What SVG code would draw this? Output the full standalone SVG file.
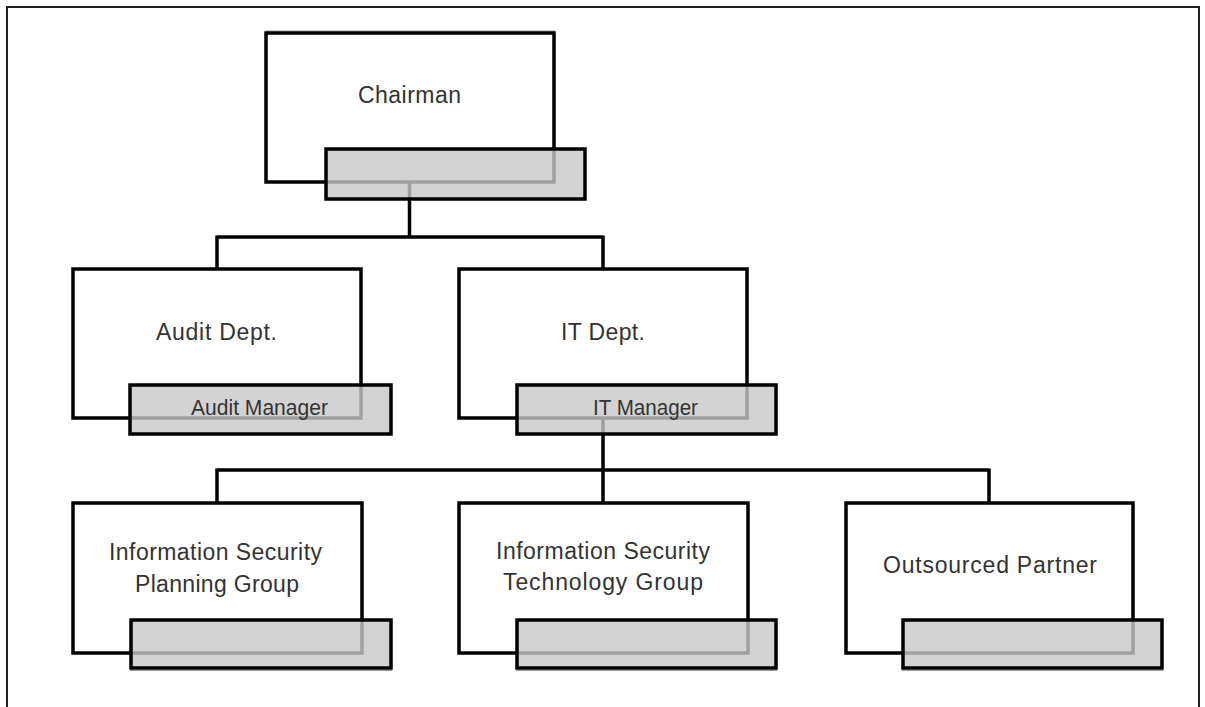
<svg xmlns="http://www.w3.org/2000/svg" width="1205" height="707" viewBox="0 0 1205 707">
<style>
.bg{fill:#fff}
.frame{fill:none;stroke:#222;stroke-width:2}
.box{fill:#fff;stroke:#000;stroke-width:3.5}
.tab{fill:#c8c8c8;fill-opacity:0.8;stroke:#000;stroke-width:3.5}
.edge{fill:none;stroke:#000;stroke-width:3.5}
.thin{fill:none;stroke:#999;stroke-width:1}
text{font-family:"Liberation Sans",Arial,sans-serif;font-size:23px;fill:#333;text-anchor:middle}
.sm{font-size:22px}
</style>
<rect class="bg" x="0" y="0" width="1205" height="707"/>
<rect class="frame" x="7" y="7" width="1192" height="720"/>
<g id="connectors">
<path class="edge" d="M409.5 182 V237 M217 237 H603 M217 235.5 V269 M603 235.5 V269"/>
<path class="edge" d="M603 418 V470 M217 470 H989 M217 468.5 V503 M603 468.5 V503 M989 468.5 V503"/>
</g>
<g id="chairman">
<line class="thin" x1="266" y1="31" x2="555" y2="31"/>
<rect class="box" x="266" y="33" width="288" height="149"/>
<text x="409.5" y="103" textLength="103" lengthAdjust="spacing">Chairman</text>
<rect class="tab" x="326" y="149" width="259" height="50"/>
</g>
<g id="audit">
<rect class="box" x="73" y="269" width="288" height="149"/>
<text x="216.5" y="340" textLength="121" lengthAdjust="spacing">Audit Dept.</text>
<rect class="tab" x="130" y="385" width="261" height="49"/>
<text class="sm" x="259.5" y="415" textLength="137" lengthAdjust="spacingAndGlyphs">Audit Manager</text>
</g>
<g id="it">
<rect class="box" x="459" y="269" width="288" height="149"/>
<text x="603" y="340" textLength="84" lengthAdjust="spacing">IT Dept.</text>
<rect class="tab" x="517" y="385" width="259" height="49"/>
<text class="sm" x="645.5" y="415" textLength="105" lengthAdjust="spacingAndGlyphs">IT Manager</text>
</g>
<g id="planning">
<rect class="box" x="73" y="503" width="289" height="150"/>
<text x="215.5" y="560" textLength="213" lengthAdjust="spacing">Information Security</text>
<text x="217" y="592" textLength="164" lengthAdjust="spacing">Planning Group</text>
<rect class="tab" x="131" y="620" width="260" height="48"/>
<line class="thin" x1="130" y1="670.5" x2="392" y2="670.5"/>
</g>
<g id="technology">
<rect class="box" x="459" y="503" width="289" height="150"/>
<text x="603" y="559" textLength="214" lengthAdjust="spacing">Information Security</text>
<text x="603" y="590" textLength="200" lengthAdjust="spacing">Technology Group</text>
<rect class="tab" x="517" y="620" width="259" height="48"/>
<line class="thin" x1="516" y1="670.5" x2="777" y2="670.5"/>
</g>
<g id="outsourced">
<rect class="box" x="846" y="503" width="287" height="150"/>
<text x="990" y="573" textLength="214" lengthAdjust="spacing">Outsourced Partner</text>
<rect class="tab" x="903" y="620" width="259" height="48"/>
<line class="thin" x1="902" y1="670.5" x2="1163" y2="670.5"/>
</g>
</svg>
